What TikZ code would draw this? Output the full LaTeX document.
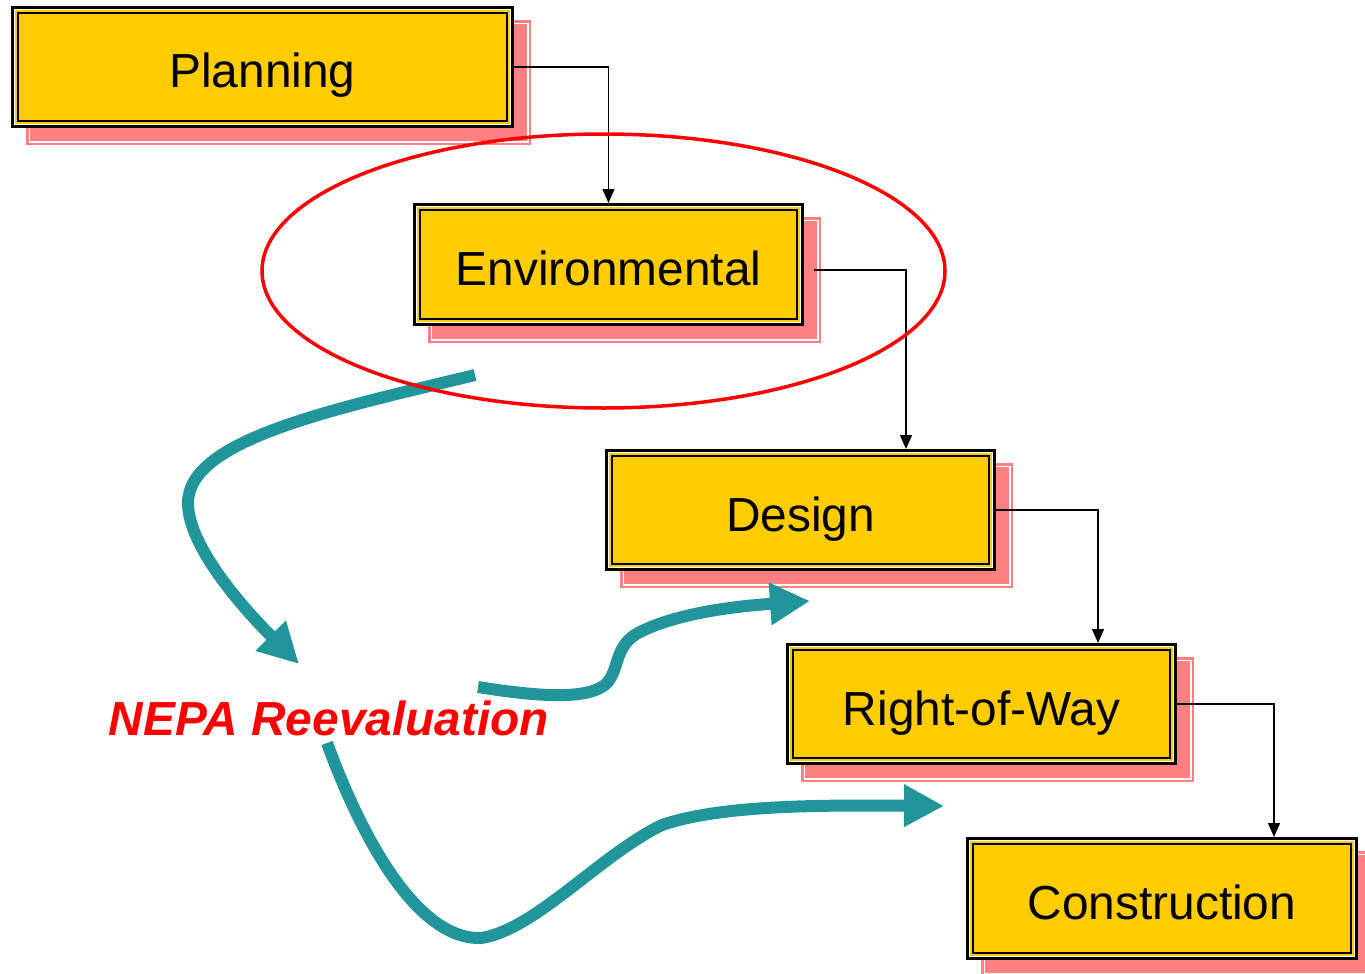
\documentclass[tikz,border=0pt]{standalone}
\usepackage{fontspec}
\setmainfont{Liberation Sans}
\usetikzlibrary{arrows.meta,calc}
\definecolor{boxyellow}{RGB}{255,204,0}
\definecolor{shadowred}{RGB}{255,128,128}
\definecolor{tealarrow}{RGB}{32,150,155}
\tikzset{
  stage/.style={draw=black, line width=2.2pt, inner sep=0pt, outer sep=7pt,
    text height=42pt, text depth=0pt,
    font=\fontsize{47.8}{56}\selectfont},
  conn/.style={draw=black, line width=1.4pt, -{Triangle[length=14pt,width=12pt]}},
  flow/.style={draw=tealarrow, line width=12pt, -{Triangle[length=40pt,width=40pt]}},
}
\newcommand\stagebox[6]{%
  \fill[shadowred] (#2+15,#3+14) rectangle (#4+17,#5+17);
  \draw[white, line width=1.2pt] (#2+18.5,#3+17.5) rectangle (#4+14,#5+14);
  \draw[black, line width=3.2pt, fill=boxyellow] (#2+1.6,#3+1.6) rectangle (#4-1.6,#5-1.6);
  \draw[white, line width=1.2pt] (#2+3.8,#3+3.8) rectangle (#4-3.8,#5-3.8);
  \node[stage, minimum width=#4-#2-14, minimum height=#5-#3-14] (#1) at ({(#2+#4)/2},{(#3+#5)/2}) {#6};
}
\begin{document}
\begin{tikzpicture}[x=1pt,y=-1pt]
\useasboundingbox (0,0) rectangle (1365,974);
\stagebox{plan}{11}{6}{514}{128}{Planning}
\stagebox{env}{413}{203}{804}{326}{Environmental}
\stagebox{des}{605}{449}{996}{571}{Design}
\stagebox{row}{786}{643}{1177}{765}{Right-of-Way}
\stagebox{con}{966}{837}{1358}{960}{Construction}

\draw[conn] (plan.east) -| (env.north);
\draw[conn] ([xshift=10pt,yshift=-5.5pt]env.east) -| ([xshift=105.5pt]des.north);
\draw[conn] (des.east) -| ([xshift=116.5pt]row.north);
\draw[conn] (row.east) -| ([xshift=112pt]con.north);

\draw[flow] (475,375) .. controls (330,410) and (188,440) .. (188,503)
  .. controls (188,545) and (240,605) .. (299,664);
\draw[flow] (478,687) .. controls (540,697) and (590,700) .. (607,683)
  .. controls (620,668) and (614,645) .. (640,632)
  .. controls (680,612) and (740,606) .. (810,601);
\draw[flow] (327,743) .. controls (370,860) and (425,940) .. (481,938)
  .. controls (535,930) and (600,855) .. (662,825)
  .. controls (720,805) and (820,805) .. (944,806);

\node[font=\bfseries\itshape\fontsize{47.8}{56}\selectfont, text=red, anchor=base, inner sep=0pt] (nepa) at (329,735) {NEPA Reevaluation};

\draw[red, line width=3.5pt] (603.5,271) ellipse [x radius=341.5, y radius=137];
\end{tikzpicture}
\end{document}
